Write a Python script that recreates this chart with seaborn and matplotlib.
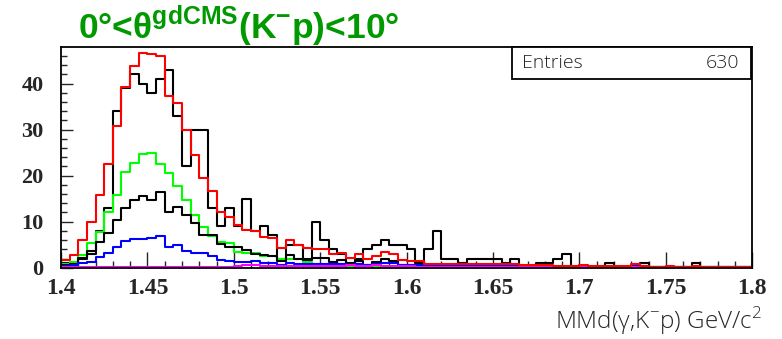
import numpy as np
import pandas as pd
import seaborn as sns
import matplotlib
matplotlib.use("Agg")
import matplotlib.pyplot as plt
from matplotlib.ticker import MultipleLocator
from matplotlib.patches import Rectangle

# ---------------- data (80 bins of 0.005 from 1.4 to 1.8) ----------------
x_min, x_max, n_bins = 1.4, 1.8, 80

data_counts = [1, 1, 2, 3, 8, 13, 34, 39, 42, 40,
               38, 41, 43, 33, 22, 30, 30, 13, 9, 13,
               9, 15, 8, 9, 7, 2, 5, 5, 2, 10,
               6, 4, 3, 1, 2, 4, 5, 6, 5, 5,
               4, 1, 4, 8, 2, 2, 1, 2, 2, 2,
               2, 1, 2, 0, 0, 1, 1, 2, 3, 0,
               0, 0, 0, 1, 0, 0, 0, 1, 0, 0,
               0, 0, 0, 1, 0, 0, 0, 0, 0, 0]

total_fit = [1.7, 2.8, 6.0, 10.0, 15.8, 22.5, 30.8, 39.2, 43.8, 46.7,
             46.4, 46.1, 37.3, 35.9, 29.9, 24.4, 19.6, 16.7, 12.2, 11.1,
             9.3, 8.2, 7.9, 6.7, 6.4, 4.2, 6.0, 5.0, 4.3, 4.0,
             4.0, 2.9, 3.1, 2.1, 2.9, 1.8, 2.6, 3.5, 3.0, 1.6,
             1.5, 1.5, 0.8, 0.8, 0.7, 0.9, 0.7, 0.7, 0.8, 0.9,
             0.8, 0.9, 0.7, 0.6, 0.6, 0.5, 0.5, 0.3, 0.4, 0.4,
             0.5, 0.3, 0.3, 0.3, 0.3, 0.3, 0.8, 0.3, 0.2, 0.2,
             0.3, 0.2, 0.2, 0.3, 0.2, 0.2, 0.2, 0.2, 0.2, 0.2]

green_comp = [0.8, 1.2, 2.8, 5.3, 7.8, 12.2, 15.8, 20.7, 22.8, 24.7,
              25.0, 22.6, 20.5, 17.8, 14.7, 11.5, 8.9, 6.9, 5.5, 5.3,
              3.4, 3.1, 3.1, 2.5, 2.5, 1.8, 1.8, 1.8, 1.3, 0.7,
              0.6, 0.5, 0.4, 0.3, 0.3, 0.3, 0.2, 0.2, 0.2, 0.2,
              0.2, 0.2, 0.1, 0.1, 0.1, 0.1, 0.1, 0.1, 0.1, 0.2,
              0.1, 0.1, 0.2, 0.1, 0.2, 0.1, 0.1, 0.1, 0.1, 0.1,
              0.1, 0.1, 0.1, 0.1, 0.1, 0.1, 0.1, 0.1, 0.1, 0.1,
              0.1, 0.1, 0.1, 0.1, 0.1, 0.1, 0.1, 0.1, 0.1, 0.1]

black_comp = [0.5, 0.9, 2.2, 3.6, 5.6, 7.5, 10.3, 12.9, 14.8, 15.6,
              14.7, 16.5, 12.2, 13.1, 11.5, 9.7, 7.1, 7.1, 5.2, 4.4,
              4.4, 3.8, 2.9, 2.8, 2.5, 1.4, 2.8, 1.9, 1.7, 2.1,
              2.2, 1.3, 1.6, 0.7, 1.5, 0.5, 1.2, 1.9, 1.4, 0.5,
              0.5, 0.5, 0.2, 0.2, 0.2, 0.3, 0.2, 0.2, 0.2, 0.3,
              0.3, 0.3, 0.2, 0.2, 0.2, 0.1, 0.1, 0.1, 0.1, 0.1,
              0.1, 0.1, 0.1, 0.1, 0.1, 0.1, 0.1, 0.1, 0.1, 0.1,
              0.1, 0.1, 0.1, 0.1, 0.1, 0.1, 0.1, 0.1, 0.1, 0.1]

blue_comp = [0.3, 0.5, 1.0, 1.3, 2.4, 3.1, 4.6, 5.9, 6.2, 6.2,
             6.4, 6.8, 4.4, 4.9, 3.7, 3.2, 3.1, 2.5, 1.6, 1.4,
             1.2, 1.2, 1.5, 1.0, 1.0, 0.6, 1.0, 0.9, 0.9, 0.8,
             0.8, 0.7, 0.7, 0.6, 0.7, 0.6, 0.8, 1.0, 1.0, 0.6,
             0.6, 0.6, 0.3, 0.3, 0.3, 0.3, 0.3, 0.3, 0.3, 0.3,
             0.3, 0.3, 0.3, 0.3, 0.3, 0.3, 0.3, 0.2, 0.2, 0.2,
             0.2, 0.2, 0.2, 0.2, 0.2, 0.2, 0.5, 0.2, 0.1, 0.1,
             0.1, 0.1, 0.1, 0.1, 0.1, 0.1, 0.1, 0.1, 0.1, 0.1]

magenta_comp = [0.1, 0.1, 0.1, 0.1, 0.1, 0.1, 0.1, 0.1, 0.1, 0.1,
                0.2, 0.2, 0.2, 0.2, 0.2, 0.2, 0.2, 0.2, 0.2, 0.2,
                0.3, 0.5, 0.5, 0.4, 0.4, 0.4, 0.4, 0.4, 0.4, 0.4,
                0.4, 0.4, 0.4, 0.6, 0.4, 0.4, 0.6, 0.3, 0.3, 0.3,
                0.3, 0.2, 0.2, 0.2, 0.2, 0.2, 0.2, 0.2, 0.2, 0.2,
                0.2, 0.2, 0.2, 0.2, 0.2, 0.2, 0.2, 0.1, 0.1, 0.1,
                0.1, 0.1, 0.1, 0.1, 0.1, 0.1, 0.1, 0.1, 0.1, 0.1,
                0.1, 0.1, 0.1, 0.1, 0.1, 0.1, 0.1, 0.1, 0.1, 0.1]

x_tick_labels = ["1.4", "1.45", "1.5", "1.55", "1.6", "1.65", "1.7", "1.75", "1.8"]
y_tick_labels = ["0", "10", "20", "30", "40"]
entries = 630

# ---------------- figure ----------------
sns.set_style("ticks")
plt.rcParams["mathtext.fontset"] = "custom"
plt.rcParams["mathtext.rm"] = "Open Sans:light"
plt.rcParams["mathtext.bf"] = "Liberation Sans:bold"

light_font = ["Open Sans", "Liberation Sans", "DejaVu Sans"]

fig = plt.figure(figsize=(7.82, 3.39), dpi=100)
fig.patch.set_facecolor("white")
ax = fig.add_axes([0.0780, 0.2103, 0.9619 - 0.0780, 0.8605 - 0.2103])
ax.set_facecolor("white")

bin_w = (x_max - x_min) / n_bins
centers = x_min + bin_w * (np.arange(n_bins) + 0.5)

series = [
    ("data", data_counts, "black"),
    ("green", green_comp, "#00ff00"),
    ("black2", black_comp, "black"),
    ("blue", blue_comp, "#0000ff"),
    ("magenta", magenta_comp, "#ff00ff"),
    ("total", total_fit, "#ff0000"),
]
for name, vals, col in series:
    df = pd.DataFrame({"x": centers, "w": vals})
    sns.histplot(data=df, x="x", weights="w", bins=n_bins, binrange=(x_min, x_max),
                 element="step", fill=False, color=col, linewidth=1.5, ax=ax)

ax.set_xlim(x_min, x_max)
ax.set_ylim(0, 47.9)
ax.set_xlabel("")
ax.set_ylabel("")

xt = [float(s) for s in x_tick_labels]
yt = [float(s) for s in y_tick_labels]
ax.set_xticks(xt, x_tick_labels)
ax.set_yticks(yt, y_tick_labels)
ax.xaxis.set_minor_locator(MultipleLocator(0.01))
ax.yaxis.set_minor_locator(MultipleLocator(2))
ax.tick_params(axis="x", which="major", direction="in", length=11.5, width=1,
               pad=7.5, labelsize=17)
ax.tick_params(axis="x", which="minor", direction="in", length=5.4, width=1)
ax.tick_params(axis="y", which="major", direction="in", length=8.9, width=1,
               pad=12.5, labelsize=16)
ax.tick_params(axis="y", which="minor", direction="in", length=4.4, width=1)
for lbl in ax.get_xticklabels() + ax.get_yticklabels():
    lbl.set_fontfamily("Liberation Serif")
    lbl.set_fontweight("bold")

for sp in ax.spines.values():
    sp.set_visible(True)
    sp.set_linewidth(1.3)
    sp.set_color("black")

# x-axis title
fig.text(0.975, 0.03, "MMd(γ,K$^{-}$p) GeV/c$^{2}$", ha="right", va="baseline",
         fontsize=17.5, fontweight="light", family=light_font)

# title
fig.text(0.0997, 0.888, r"0°<θ$^{\mathbf{gdCMS}}$(K$^{\mathbf{-}}$p)<10°",
         ha="left", va="baseline", fontsize=25.5, fontweight="bold",
         color="#009900", family=["Liberation Sans", "DejaVu Sans"])

# stats box
bx0, bx1 = 511.7 / 782, 751.0 / 782
by0, by1 = 1 - 79.3 / 339, 1 - 47.3 / 339
fig.patches.append(Rectangle((bx0, by0), bx1 - bx0, by1 - by0, transform=fig.transFigure,
                             facecolor="white", edgecolor="black", linewidth=1.3, zorder=5))
fig.text(522.5 / 782, (by0 + by1) / 2, "Entries", ha="left", va="center", fontsize=14,
         fontweight="light", family=light_font, zorder=6)
fig.text(739.5 / 782, (by0 + by1) / 2, str(entries), ha="right", va="center", fontsize=14,
         fontweight="light", family=light_font, zorder=6)

fig.savefig("out.png", dpi=100, facecolor="white")
